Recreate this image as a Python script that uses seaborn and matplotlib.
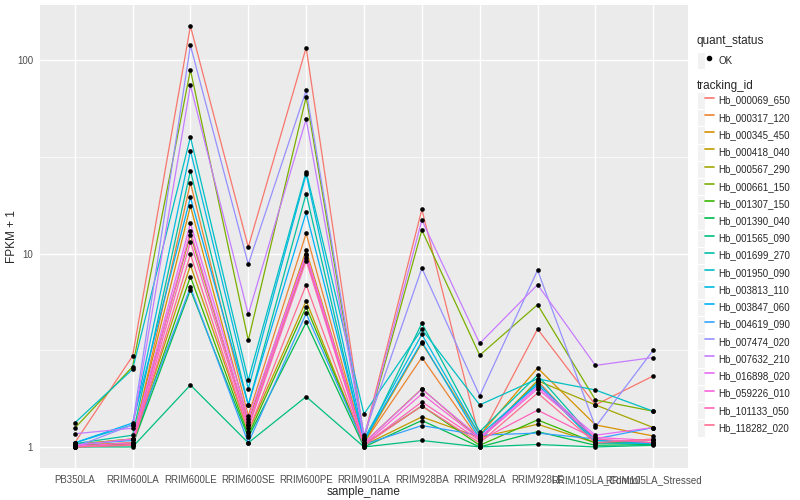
import matplotlib
matplotlib.use('Agg')
import matplotlib.pyplot as plt
from matplotlib.lines import Line2D
from matplotlib.patches import Rectangle
from matplotlib.legend_handler import HandlerTuple
from matplotlib.ticker import FixedLocator, NullFormatter
import numpy as np
import pandas as pd
import seaborn as sns

sample_names = ['PB350LA', 'RRIM600LA', 'RRIM600LE', 'RRIM600SE', 'RRIM600PE', 'RRIM901LA',
                'RRIM928BA', 'RRIM928LA', 'RRIM928LE', 'RRIM105LA_Control', 'RRIM105LA_Stressed']

tracking_ids = ['Hb_000069_650', 'Hb_000317_120', 'Hb_000345_450', 'Hb_000418_040', 'Hb_000567_290',
                'Hb_000661_150', 'Hb_001307_150', 'Hb_001390_040', 'Hb_001565_090', 'Hb_001699_270',
                'Hb_001950_090', 'Hb_003813_110', 'Hb_003847_060', 'Hb_004619_090', 'Hb_007474_020',
                'Hb_007632_210', 'Hb_016898_020', 'Hb_059226_010', 'Hb_101133_050', 'Hb_118282_020']

# FPKM + 1, one row per tracking_id, columns in sample_names order
fpkm_values = [
    [1.05, 2.95, 150, 10.8, 116, 1.12, 16.9, 1.10, 4.07, 1.65, 2.33],
    [1.02, 1.05, 23.2, 1.45, 12.7, 1.05, 2.90, 1.08, 2.20, 1.05, 1.08],
    [1.03, 1.10, 17.6, 1.35, 10.4, 1.05, 3.45, 1.15, 2.56, 1.30, 1.14],
    [1.02, 1.05, 8.7, 1.20, 5.7, 1.02, 1.43, 1.12, 1.31, 1.05, 1.05],
    [1.03, 1.10, 12.5, 1.30, 9.5, 1.05, 2.00, 1.10, 2.20, 1.65, 1.26],
    [1.25, 2.60, 89, 3.56, 64.4, 1.10, 13.2, 2.98, 5.44, 1.75, 1.53],
    [1.02, 1.03, 7.6, 1.15, 5.3, 1.03, 1.63, 1.02, 1.38, 1.05, 1.05],
    [1.00, 1.02, 6.5, 1.12, 4.4, 1.00, 1.37, 1.00, 1.20, 1.02, 1.03],
    [1.00, 1.00, 2.09, 1.05, 1.82, 1.00, 1.08, 1.00, 1.03, 1.00, 1.02],
    [1.04, 1.15, 26.8, 1.65, 20.4, 1.05, 4.36, 1.20, 2.35, 1.08, 1.05],
    [1.33, 2.52, 40, 2.22, 26.5, 1.48, 4.06, 1.65, 2.25, 1.97, 1.53],
    [1.05, 1.30, 34, 2.00, 25.7, 1.10, 3.82, 1.15, 2.10, 1.05, 1.04],
    [1.05, 1.33, 19.5, 1.65, 16.3, 1.08, 3.50, 1.10, 2.15, 1.08, 1.05],
    [1.03, 1.08, 6.7, 1.05, 4.9, 1.03, 1.29, 1.15, 1.18, 1.10, 1.26],
    [1.00, 1.30, 119, 8.8, 69.7, 1.15, 8.4, 1.84, 8.2, 1.27, 3.17],
    [1.17, 1.25, 74, 4.85, 49.5, 1.10, 14.9, 3.43, 6.9, 2.64, 2.90],
    [1.02, 1.10, 14.3, 1.40, 10.0, 1.05, 1.99, 1.12, 2.05, 1.15, 1.26],
    [1.01, 1.05, 13.0, 1.30, 9.8, 1.03, 1.88, 1.10, 2.00, 1.12, 1.08],
    [1.00, 1.03, 11.5, 1.25, 9.2, 1.02, 1.71, 1.08, 1.55, 1.10, 1.05],
    [1.00, 1.02, 9.9, 1.20, 6.9, 1.02, 1.63, 1.05, 1.90, 1.05, 1.10],
]

# ggplot2 default hue palette for 20 levels
colors = ['#F8766D', '#EA8331', '#D89000', '#C09B00', '#A3A500', '#7CAE00', '#39B600', '#00BB4E',
          '#00BF7D', '#00C1A3', '#00BFC4', '#00BAE0', '#00B0F6', '#35A2FF', '#9590FF', '#C77CFF',
          '#E76BF3', '#FA62DB', '#FF62BC', '#FF6C91']

rows = []
for tid, vals in zip(tracking_ids, fpkm_values):
    for i, (s, v) in enumerate(zip(sample_names, vals)):
        rows.append({'tracking_id': tid, 'sample_name': s, 'pos': i, 'fpkm': v, 'quant_status': 'OK'})
df = pd.DataFrame(rows)

sns.set_style('darkgrid', {'axes.facecolor': '#EBEBEB', 'grid.color': 'white',
                           'axes.edgecolor': '#EBEBEB'})
plt.rcParams['font.family'] = ['Liberation Sans', 'DejaVu Sans']

fig, ax = plt.subplots(figsize=(8, 5), dpi=100)
fig.subplots_adjust(left=0.05, right=0.86, top=0.99, bottom=0.064)

sns.lineplot(data=df, x='pos', y='fpkm', hue='tracking_id', hue_order=tracking_ids,
             palette=colors, estimator=None, sort=False, linewidth=0.9, ax=ax, legend=False)
sns.scatterplot(data=df, x='pos', y='fpkm', color='black', s=11, linewidth=0,
                ax=ax, legend=False, zorder=3)

ax.set_yscale('log')
lo, hi = np.log10(df['fpkm'].min()), np.log10(df['fpkm'].max())
pad = 0.05 * (hi - lo)
ax.set_ylim(10 ** (lo - pad), 10 ** (hi + pad))
ax.set_xlim(-0.6, len(sample_names) - 0.4)

ax.yaxis.set_major_locator(FixedLocator([1, 10, 100]))
ax.set_yticklabels(['1', '10', '100'])
ax.yaxis.set_minor_locator(FixedLocator([10 ** 0.5, 10 ** 1.5]))
ax.yaxis.set_minor_formatter(NullFormatter())
ax.set_xticks(range(len(sample_names)))
ax.set_xticklabels(sample_names)

ax.grid(which='major', color='white', linewidth=1.0)
ax.grid(which='minor', axis='y', color='white', linewidth=0.5)
ax.tick_params(axis='both', which='major', labelsize=7, colors='#4D4D4D', length=3,
               width=0.8, pad=2, labelcolor='#4D4D4D')
ax.tick_params(axis='both', which='minor', length=0)
for sp in ax.spines.values():
    sp.set_visible(False)

ax.set_xlabel('sample_name', fontsize=8.5, labelpad=1)
ax.set_ylabel('FPKM + 1', fontsize=8.5, va='center')
ax.yaxis.set_label_coords(-0.043, 0.5)


def key_box():
    return Rectangle((0, 0), 1, 1, facecolor='#F2F2F2', edgecolor='white', linewidth=0.8)


h1 = [(key_box(), Line2D([], [], marker='o', color='black', linestyle='', markersize=3))]
leg1 = fig.legend(handles=h1, labels=['OK'], title='quant_status', loc='upper left',
                  bbox_to_anchor=(0.866, 0.937), frameon=False, fontsize=7, title_fontsize=8.5,
                  alignment='left', handlelength=1.75, handleheight=2.35, handletextpad=0.5,
                  borderaxespad=0, handler_map={tuple: HandlerTuple(ndivide=None, pad=0)})
h2 = [(key_box(), Line2D([], [], color=c, linewidth=1.2)) for c in colors]
leg2 = fig.legend(handles=h2, labels=tracking_ids, title='tracking_id', loc='upper left',
                  bbox_to_anchor=(0.866, 0.848), frameon=False, fontsize=7, title_fontsize=8.5,
                  alignment='left', handlelength=1.75, handleheight=2.35, handletextpad=0.5,
                  labelspacing=0, borderaxespad=0,
                  handler_map={tuple: HandlerTuple(ndivide=None, pad=0)})

fig.savefig('out.png', dpi=100)
